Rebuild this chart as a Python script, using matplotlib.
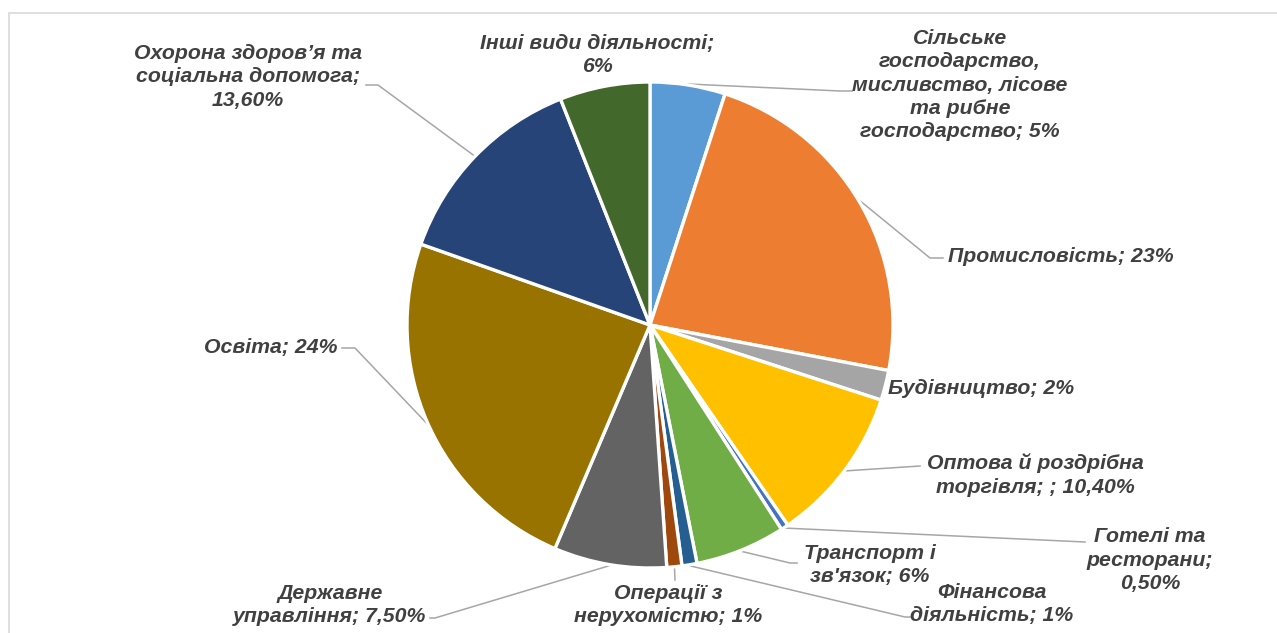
import numpy as np
import matplotlib.pyplot as plt
from matplotlib.patches import Rectangle

W, H = 1277, 633

# Sector shares, clockwise from 12 o'clock
sectors = [
    "Сільське\nгосподарство,\nмисливство, лісове\nта рибне\nгосподарство",
    "Промисловість",
    "Будівництво",
    "Оптова й роздрібна\nторгівля; ",
    "Готелі та\nресторани;\n",
    "Транспорт і\nзв'язок",
    "Фінансова\nдіяльність",
    "Операції з\nнерухомістю",
    "Державне\nуправління",
    "Освіта",
    "Охорона здоров’я та\nсоціальна допомога;\n",
    "Інші види діяльності;\n",
]
shares = [5, 23, 2, 10.4, 0.5, 6, 1, 1, 7.5, 24, 13.6, 6]
share_text = ["5%", "23%", "2%", "10,40%", "0,50%", "6%", "1%", "1%",
              "7,50%", "24%", "13,60%", "6%"]
colors = ["#5B9BD5", "#ED7D31", "#A5A5A5", "#FFC000", "#4472C4", "#70AD47",
          "#255E91", "#9E480E", "#636363", "#997300", "#264478", "#43682B"]

# label layout in pixels (x, y, ha) and leader-line bend points
label_pos = [
    (960, 85, "center"), (948, 257, "left"), (888, 388, "left"),
    (1035, 475, "center"), (1150, 560, "center"), (870, 565, "center"),
    (992, 604, "center"), (668, 605, "center"), (330, 605, "center"),
    (338, 347, "right"), (248, 77, "center"), (597, 55, "center"),
]
leader_pts = [
    [(840, 91), (852, 91)], [(930, 258), (943, 258)], [],
    [(920, 466)], [(1085, 542)], [(790, 563), (797, 563)],
    [(905, 617), (910, 617)], [(675, 580)], [(435, 618), (430, 618)],
    [(355, 348), (342, 348)], [(378, 85), (366, 85)], [],
]

cx, cy, r = 650, H - 325, 243

fig = plt.figure(figsize=(W / 100, H / 100), dpi=100)
ax = fig.add_axes([0, 0, 1, 1])
ax.pie(shares, colors=colors, startangle=90, counterclock=False,
       center=(cx, cy), radius=r,
       wedgeprops=dict(edgecolor="white", linewidth=2.4))
ax.set_xlim(0, W)
ax.set_ylim(0, H)
ax.set_aspect("equal")
ax.axis("off")

ax.add_patch(Rectangle((9, -20), W + 20, H - 13 + 20, fill=False,
                       edgecolor="#D9D9D9", linewidth=1.2))

font = dict(family="Liberation Sans", fontweight="bold", fontstyle="italic",
            fontsize=15.3, color="#404040", linespacing=1.28)

before = np.concatenate([[0], np.cumsum(shares)[:-1]])
for i, name in enumerate(sectors):
    sep = "" if name.endswith("\n") else "; "
    text = name + sep + share_text[i]
    x, y, ha = label_pos[i]
    ax.text(x, H - y, text, ha=ha, va="center", multialignment="center", **font)
    if leader_pts[i]:
        ang = np.radians(90 - (before[i] + shares[i] / 2) * 3.6)
        xs = [cx + (r + 1) * np.cos(ang)] + [p[0] for p in leader_pts[i]]
        ys = [cy + (r + 1) * np.sin(ang)] + [H - p[1] for p in leader_pts[i]]
        ax.plot(xs, ys, color="#A6A6A6", linewidth=1.1, zorder=0)

fig.savefig("out.png", dpi=100)
